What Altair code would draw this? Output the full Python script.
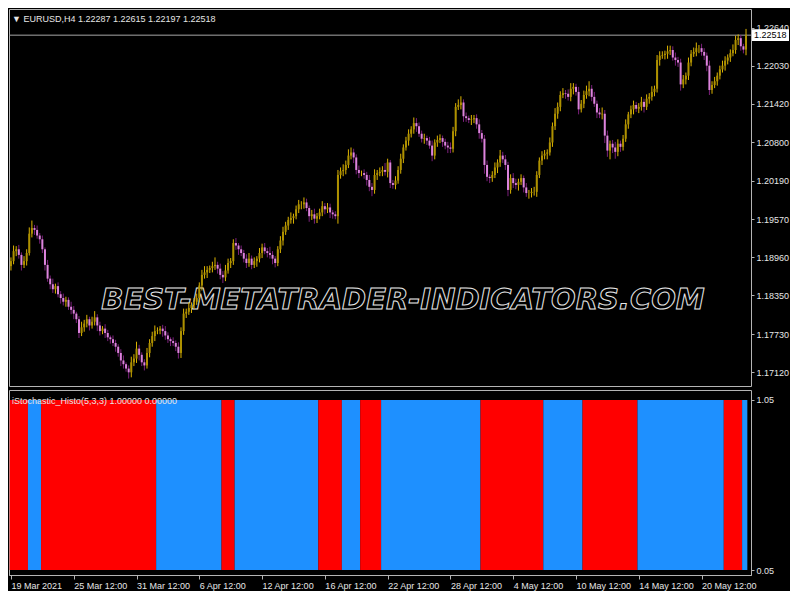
import json
import altair as alt
import pandas as pd

# ---------------- data ----------------
symbol = "EURUSD,H4"
last_ohlc = [1.22287, 1.22615, 1.22197, 1.22518]
indicator_name = "iStochastic_Histo(5,3,3)"
indicator_vals = ["1.00000", "0.00000"]
watermark = "BEST-METATRADER-INDICATORS.COM"
current_price = 1.22518
first_open = 1.1882

closes = [
    1.1890, 1.1906, 1.1909, 1.1900, 1.1884, 1.1890, 1.1903, 1.1934, 1.1943, 1.1940,
    1.1931, 1.1925, 1.1909, 1.1884, 1.1862, 1.1853, 1.1845, 1.1850, 1.1837, 1.1831,
    1.1825, 1.1828, 1.1817, 1.1812, 1.1806, 1.1797, 1.1775, 1.1784, 1.1790, 1.1797,
    1.1787, 1.1793, 1.1800, 1.1787, 1.1778, 1.1782, 1.1775, 1.1768, 1.1765, 1.1759,
    1.1753, 1.1743, 1.1731, 1.1725, 1.1718, 1.1712, 1.1728, 1.1734, 1.1750, 1.1740,
    1.1728, 1.1723, 1.1743, 1.1759, 1.1770, 1.1778, 1.1779, 1.1782, 1.1778, 1.1771,
    1.1765, 1.1762, 1.1759, 1.1753, 1.1743, 1.1778, 1.1806, 1.1809, 1.1815, 1.1820,
    1.1825, 1.1831, 1.1851, 1.1868, 1.1872, 1.1876, 1.1879, 1.1882, 1.1884, 1.1878,
    1.1868, 1.1864, 1.1875, 1.1887, 1.1890, 1.1919, 1.1915, 1.1909, 1.1903, 1.1894,
    1.1887, 1.1894, 1.1884, 1.1890, 1.1894, 1.1903, 1.1912, 1.1906, 1.1903, 1.1900,
    1.1894, 1.1887, 1.1909, 1.1923, 1.1937, 1.1947, 1.1956, 1.1959, 1.1962, 1.1973,
    1.1981, 1.1981, 1.1984, 1.1975, 1.1962, 1.1965, 1.1958, 1.1962, 1.1968, 1.1978,
    1.1973, 1.1976, 1.1968, 1.1965, 1.1962, 1.2028, 1.2034, 1.2036, 1.2044, 1.2059,
    1.2064, 1.2056, 1.2036, 1.2031, 1.2031, 1.2028, 1.2020, 1.2009, 1.2004, 1.2028,
    1.2031, 1.2033, 1.2036, 1.2033, 1.2048, 1.2015, 1.2012, 1.2019, 1.2036, 1.2054,
    1.2072, 1.2083, 1.2094, 1.2101, 1.2111, 1.2106, 1.2094, 1.2086, 1.2087, 1.2083,
    1.2075, 1.2059, 1.2080, 1.2084, 1.2087, 1.2081, 1.2075, 1.2072, 1.2070, 1.2098,
    1.2137, 1.2140, 1.2144, 1.2122, 1.2119, 1.2116, 1.2117, 1.2119, 1.2109, 1.2095,
    1.2086, 1.2044, 1.2025, 1.2023, 1.2028, 1.2040, 1.2048, 1.2059, 1.2053, 1.2044,
    1.2004, 1.2023, 1.2015, 1.2012, 1.2017, 1.2023, 1.2008, 1.1999, 1.1999, 1.2001,
    1.2001, 1.2028, 1.2051, 1.2059, 1.2062, 1.2064, 1.2080, 1.2106, 1.2126, 1.2137,
    1.2156, 1.2159, 1.2158, 1.2153, 1.2166, 1.2169, 1.2161, 1.2133, 1.2142, 1.2156,
    1.2162, 1.2166, 1.2153, 1.2142, 1.2128, 1.2125, 1.2126, 1.2091, 1.2067, 1.2078,
    1.2072, 1.2065, 1.2078, 1.2073, 1.2086, 1.2109, 1.2125, 1.2133, 1.2140, 1.2134,
    1.2137, 1.2145, 1.2137, 1.2150, 1.2153, 1.2161, 1.2166, 1.2212, 1.2219, 1.2220,
    1.2222, 1.2226, 1.2228, 1.2216, 1.2212, 1.2208, 1.2173, 1.2181, 1.2187, 1.2208,
    1.2222, 1.2225, 1.2231, 1.2231, 1.2225, 1.2219, 1.2203, 1.2164, 1.2172, 1.2178,
    1.2187, 1.2197, 1.2203, 1.2211, 1.2216, 1.2223, 1.2228, 1.2244, 1.2247, 1.2234,
    1.22287, 1.22518,
]

# upper / lower wick lengths in pips
wick_up = [
    6, 9, 5, 7, 4, 8, 6, 10, 12, 5, 7, 4, 6, 3, 8, 5, 9, 4, 6, 5,
    7, 5, 4, 8, 6, 3, 5, 9, 6, 7, 4, 8, 10, 5, 6, 4, 7, 5, 3, 6,
    5, 4, 6, 8, 3, 5, 9, 7, 11, 6, 4, 5, 8, 6, 7, 9, 5, 4, 6, 8,
    5, 3, 6, 4, 7, 6, 8, 5, 9, 4, 6, 7, 5, 8, 10, 6, 4, 7, 12, 5,
    8, 6, 9, 7, 5, 6, 8, 4, 6, 5, 7, 9, 5, 6, 4, 8, 6, 7, 5, 10,
    6, 4, 5, 7, 8, 6, 5, 9, 4, 6, 7, 5, 8, 6, 4, 7, 9, 5, 6, 8,
    5, 7, 6, 4, 5, 8, 6, 9, 7, 10, 8, 6, 5, 7, 4, 6, 5, 8, 6, 9,
    5, 7, 6, 11, 6, 4, 5, 7, 6, 8, 5, 6, 7, 5, 9, 8, 6, 5, 7, 4,
    6, 8, 5, 7, 6, 4, 5, 6, 8, 7, 6, 9, 10, 5, 6, 4, 7, 5, 6, 8,
    5, 6, 7, 4, 6, 8, 5, 9, 6, 7, 5, 6, 8, 7, 5, 6, 4, 7, 5, 6,
    8, 6, 5, 7, 6, 5, 8, 6, 9, 7, 6, 8, 5, 7, 9, 6, 5, 8, 6, 7,
    9, 12, 6, 8, 5, 7, 10, 6, 8, 5, 6, 9, 7, 5, 6, 8, 4, 6, 7, 5,
    6, 8, 5, 7, 6, 9, 5, 8, 7, 6, 5, 9, 7, 6, 8, 5, 6, 7, 5, 8,
    6, 7, 9, 5, 7, 6, 5, 8, 6, 7, 5, 6, 8, 7, 5, 6, 9, 7, 6, 5,
    4, 10,
]
wick_dn = [
    7, 5, 8, 6, 9, 5, 7, 4, 6, 8, 5, 7, 6, 9, 5, 8, 6, 7, 5, 9,
    6, 8, 5, 7, 9, 6, 8, 5, 7, 6, 8, 5, 6, 9, 7, 5, 8, 6, 7, 5,
    8, 6, 9, 7, 5, 10, 8, 6, 7, 9, 6, 8, 5, 7, 6, 8, 5, 6, 9, 7,
    6, 8, 5, 7, 9, 8, 6, 7, 5, 8, 6, 5, 7, 8, 6, 9, 5, 7, 6, 8,
    7, 9, 6, 5, 8, 6, 7, 9, 5, 6, 8, 6, 7, 5, 9, 6, 8, 5, 7, 6,
    9, 7, 5, 6, 8, 5, 7, 6, 9, 5, 6, 8, 7, 5, 9, 6, 8, 7, 5, 6,
    8, 6, 9, 7, 5, 12, 6, 8, 7, 5, 6, 9, 7, 8, 5, 6, 9, 7, 10, 6,
    8, 5, 7, 6, 9, 8, 6, 7, 5, 6, 7, 5, 8, 6, 7, 9, 5, 6, 8, 7,
    5, 9, 6, 7, 5, 8, 6, 9, 7, 6, 8, 5, 7, 9, 6, 5, 8, 6, 7, 9,
    6, 14, 7, 8, 6, 5, 9, 7, 6, 8, 10, 6, 8, 7, 9, 5, 8, 6, 9, 7,
    6, 8, 5, 7, 6, 9, 5, 7, 6, 8, 7, 5, 8, 6, 7, 9, 6, 8, 5, 7,
    6, 8, 7, 5, 9, 6, 8, 12, 10, 14, 9, 11, 7, 8, 6, 5, 7, 6, 8, 5,
    7, 6, 9, 5, 8, 6, 7, 6, 9, 5, 7, 8, 6, 5, 9, 7, 10, 6, 8, 7,
    6, 5, 7, 8, 6, 7, 9, 8, 6, 5, 7, 6, 5, 8, 6, 7, 5, 6, 8, 7,
    6, 9,
]

price_ticks = [1.22640, 1.22030, 1.21420, 1.20800, 1.20190,
               1.19570, 1.18960, 1.18350, 1.17730, 1.17120]
time_tick_bars = [0, 24, 48, 72, 96, 120, 144, 168, 192, 216, 240, 264]
time_labels = ["19 Mar 2021", "25 Mar 12:00", "31 Mar 12:00", "6 Apr 12:00",
               "12 Apr 12:00", "16 Apr 12:00", "22 Apr 12:00", "28 Apr 12:00",
               "4 May 12:00", "10 May 12:00", "14 May 12:00", "20 May 12:00"]

# stochastic histogram state runs (bar index ranges)
seg_first = [0, 7, 12, 56, 81, 86, 118, 127, 134, 142, 180, 204, 219, 240, 273, 280]
seg_last = [6, 11, 55, 80, 85, 117, 126, 133, 141, 179, 203, 218, 239, 272, 279, 281]
seg_state = ["down", "up", "down", "up", "down", "up", "down", "up",
             "down", "up", "down", "up", "down", "up", "down", "up"]

# ---------------- tables ----------------
opens = [first_open] + closes[:-1]
rows = []
for i, (o, c, u, d) in enumerate(zip(opens, closes, wick_up, wick_dn)):
    rows.append({"idx": i, "open": o, "close": c,
                 "high": max(o, c) + u * 0.0001,
                 "low": min(o, c) - d * 0.0001})
candles = pd.DataFrame(rows)
segs = pd.DataFrame({"first": seg_first, "last": seg_last, "state": seg_state,
                     "base": 0.0, "top": 1.0})

FONT = "Liberation Sans, Arial, sans-serif"
FS = 9
W = 742
H1 = 377
H2 = 185
TXT = "#E6E6E6"
GRID = "#B4B4B4"

xscale = alt.Scale(domain=[-0.75, 282.9], nice=False, zero=False)
yscale = alt.Scale(domain=[1.16901, 1.22937], nice=False, zero=False)

bull_wick, bear_wick = "#DDB400", "#7C207C"
bull_body, bear_body = "#AE9100", "#DC84DC"
cond = "datum.close >= datum.open"

base = alt.Chart(candles)

wm = alt.Chart(pd.DataFrame({"t": [watermark]})).mark_text(
    font="DejaVu Sans", fontSize=29, fontStyle="italic", fontWeight="bold",
    fill="black", stroke="#E8E8E8", strokeWidth=1, align="center", baseline="middle"
).encode(text="t:N", x=alt.value(394), y=alt.value(291))

price_line = alt.Chart(pd.DataFrame({"p": [current_price]})).mark_rule(
    color="#A8A8A8", strokeWidth=1
).encode(y=alt.Y("p:Q", scale=yscale, title=None))

wicks = base.mark_rule(strokeWidth=1).encode(
    x=alt.X("idx:Q", scale=xscale, axis=None),
    y=alt.Y("low:Q", scale=yscale, title=None,
            axis=alt.Axis(orient="right", values=price_ticks, format=".5f",
                          labelAlign="left", tickSize=3, labelPadding=2,
                          domain=False, grid=False)),
    y2="high:Q",
    color=alt.condition(cond, alt.value(bull_wick), alt.value(bear_wick)),
)
bodies = base.mark_rule(strokeWidth=2).encode(
    x=alt.X("idx:Q", scale=xscale, axis=None),
    y=alt.Y("open:Q", scale=yscale, title=None),
    y2="close:Q",
    color=alt.condition(cond, alt.value(bull_body), alt.value(bear_body)),
)

header_text = "\u25BC " + symbol + "  " + " ".join(f"{v:.5f}" for v in last_ohlc)
header = alt.Chart(pd.DataFrame({"t": [header_text]})).mark_text(
    font=FONT, fontSize=FS, color=TXT, align="left", baseline="middle"
).encode(text="t:N", x=alt.value(3), y=alt.value(10))

box = alt.Chart(pd.DataFrame({"p": [current_price]})).mark_point(
    shape="M-1,-0.32L1,-0.32L1,0.32L-1,0.32Z", size=1369, filled=True,
    fill="white", opacity=1, strokeWidth=0
).encode(x=alt.value(W + 19.5), y=alt.Y("p:Q", scale=yscale, title=None))
box_text = alt.Chart(pd.DataFrame({"p": [current_price]})).mark_text(
    font=FONT, fontSize=FS, color="black", align="left", baseline="middle"
).encode(x=alt.value(W + 3), y=alt.Y("p:Q", scale=yscale, title=None),
         text=alt.Text("p:Q", format=".5f"))

price_chart = alt.layer(wm, price_line, wicks, bodies, header, box, box_text).properties(
    width=W, height=H1)

# ---------------- indicator panel ----------------
label_expr = json.dumps(time_labels) + "[round(datum.value / 24)]"
hist = alt.Chart(segs).transform_calculate(
    x0="datum.first - 0.5", x1="datum.last + 0.5"
).mark_rect().encode(
    x=alt.X("x0:Q", scale=xscale, title=None,
            axis=alt.Axis(values=time_tick_bars, labelExpr=label_expr,
                          labelAlign="left", labelPadding=2, tickSize=4,
                          labelFlush=False, labelOverlap=False, grid=False)),
    x2="x1:Q",
    y=alt.Y("base:Q", title=None,
            scale=alt.Scale(domain=[-0.0294, 1.0588], nice=False, zero=False),
            axis=alt.Axis(orient="right", values=[0, 1],
                          labelExpr="datum.value == 1 ? '1.05' : '0.05'",
                          labelAlign="left", tickSize=3, labelPadding=2,
                          domain=False, grid=False)),
    y2="top:Q",
    color=alt.Color("state:N", legend=None,
                    scale=alt.Scale(domain=["down", "up"], range=["#FF0000", "#1E90FF"])),
)
ind_text = " ".join([indicator_name] + indicator_vals)
ind_title = alt.Chart(pd.DataFrame({"t": [ind_text]})).mark_text(
    font=FONT, fontSize=FS, color=TXT, align="left", baseline="middle"
).encode(text="t:N", x=alt.value(3), y=alt.value(11))

ind_chart = alt.layer(hist, ind_title).properties(width=W, height=H2)

chart = alt.vconcat(price_chart, ind_chart, spacing=2).properties(
    background="black", padding=0
).configure_view(
    stroke=GRID, strokeWidth=1
).configure_axis(
    labelFont=FONT, labelFontSize=FS, labelColor=TXT,
    tickColor=GRID, domainColor=GRID, titleColor=TXT
)

chart.save("out.html", embed_options={"renderer": "svg", "actions": False})
